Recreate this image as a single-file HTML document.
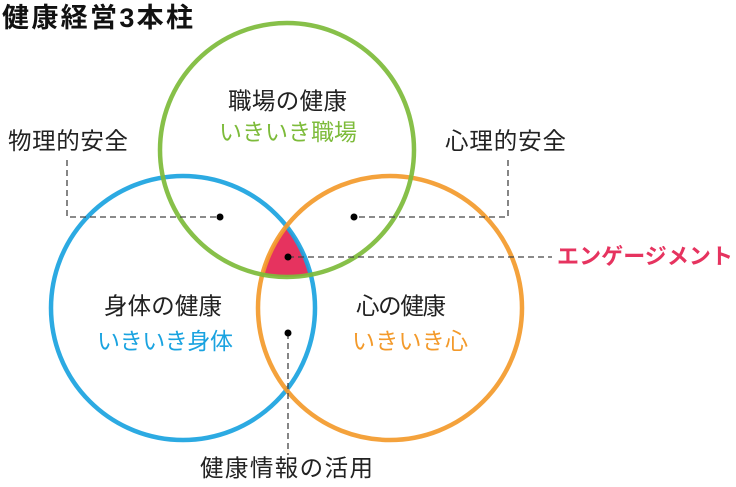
<!DOCTYPE html>
<html><head><meta charset="utf-8"><style>
html,body{margin:0;padding:0;background:#fff;}
svg{display:block;}
text{font-family:"Liberation Sans","Noto Sans CJK JP",sans-serif;}
</style></head><body>
<svg width="736" height="487" viewBox="0 0 736 487" xmlns="http://www.w3.org/2000/svg">
<defs>
<clipPath id="cg"><circle cx="287" cy="150" r="127"/></clipPath>
<clipPath id="cb"><circle cx="183" cy="308" r="132"/></clipPath>
<clipPath id="co"><circle cx="390" cy="308" r="132"/></clipPath>
</defs>
<g clip-path="url(#cg)"><g clip-path="url(#cb)"><circle cx="390" cy="308" r="132" fill="#e6335f" clip-path="url(#co)"/></g></g>
<circle cx="183" cy="308" r="132" fill="none" stroke="#1aa3e0" stroke-width="4.5" opacity="0.92"/>
<circle cx="390" cy="308" r="132" fill="none" stroke="#f39a2b" stroke-width="4.5" opacity="0.92"/>
<circle cx="287" cy="150" r="127" fill="none" stroke="#7dbb3a" stroke-width="4.5" opacity="0.92"/>
<g stroke="#444" stroke-width="1.3" stroke-dasharray="6,4" fill="none">
<polyline points="67,160 67,217 220,217"/>
<polyline points="508,160 508,217 354,217"/>
<line x1="288" y1="257" x2="552" y2="257"/>
<line x1="288" y1="333" x2="288" y2="455"/>
</g>
<g fill="#000">
<circle cx="220" cy="217" r="3.5"/><circle cx="354" cy="217" r="3.5"/>
<circle cx="288" cy="257" r="3.5"/><circle cx="288" cy="333" r="3.5"/>
</g>
<text x="2" y="27" font-size="27" font-weight="bold" textLength="191" fill="#111">健康経営3本柱</text>
<text x="8" y="149" font-size="23.5" textLength="120" fill="#222">物理的安全</text>
<text x="445" y="149" font-size="23.5" textLength="121" fill="#222">心理的安全</text>
<text x="228" y="109" font-size="23.5" textLength="119" fill="#222">職場の健康</text>
<text x="219" y="140" font-size="23" textLength="138" fill="#7dbb3a">いきいき職場</text>
<text x="104" y="314" font-size="23.5" textLength="118" fill="#222">身体の健康</text>
<text x="97" y="349" font-size="23" textLength="136" fill="#1aa3e0">いきいき身体</text>
<text x="356" y="314" font-size="23.5" textLength="90" fill="#222">心の健康</text>
<text x="352" y="349" font-size="23" textLength="116" fill="#f39a2b">いきいき心</text>
<text x="557" y="264" font-size="22" font-weight="bold" textLength="176" fill="#e6335f">エンゲージメント</text>
<text x="200" y="476" font-size="23.5" textLength="173" fill="#222">健康情報の活用</text>
</svg>
</body></html>
